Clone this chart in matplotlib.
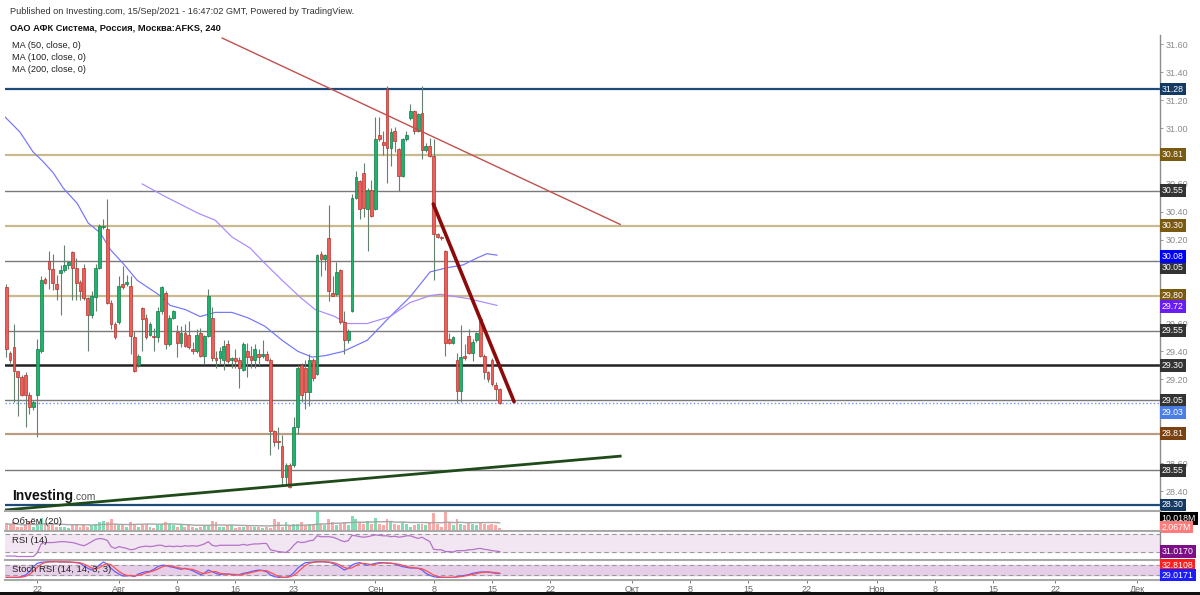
import matplotlib
matplotlib.use('Agg')
import matplotlib.pyplot as plt
import matplotlib.transforms as mtransforms
from matplotlib.patches import Rectangle
import numpy as np
import pandas as pd

plt.rcParams['font.family'] = ['Liberation Sans', 'DejaVu Sans']

# ---------------- data ----------------
opens = [29.86, 29.39, 29.43, 29.26, 29.22, 29.23, 29.09, 29.00, 29.09, 29.40,
         29.92, 30.05, 29.99, 29.88, 29.96, 29.98, 30.02, 30.11, 30.00, 29.90,
         30.00, 29.78, 29.66, 29.79, 30.00, 30.29, 30.28, 29.75, 29.60, 29.61,
         29.88, 29.88, 29.87, 29.50, 29.30, 29.71, 29.64, 29.52, 29.51, 29.50,
         29.69, 29.82, 29.45, 29.64, 29.54, 29.46, 29.53, 29.52, 29.42, 29.40,
         29.53, 29.37, 29.51, 29.64, 29.35, 29.35, 29.34, 29.45, 29.34, 29.35,
         29.34, 29.27, 29.40, 29.37, 29.34, 29.38, 29.37, 29.38, 29.34, 28.83,
         28.76, 28.72, 28.50, 28.59, 28.59, 28.86, 29.30, 29.28, 29.11, 29.34,
         29.24, 30.10, 30.06, 30.21, 29.82, 29.81, 29.98, 29.61, 29.48, 29.69,
         30.50, 30.62, 30.68, 30.42, 30.56, 30.42, 30.95, 30.90, 31.28, 30.86,
         30.98, 30.85, 30.66, 30.92, 31.07, 31.12, 30.98, 31.11, 30.84, 30.87,
         30.80, 30.24, 30.22, 30.12, 29.49, 29.46, 29.34, 29.12, 29.37, 29.51,
         29.39, 29.48, 29.63, 29.37, 29.25, 29.34, 29.16, 29.13]
highs = [29.88, 29.40, 29.60, 29.26, 29.23, 29.25, 29.11, 29.05, 29.49, 29.94,
         29.93, 30.12, 30.10, 29.95, 30.02, 30.16, 30.05, 30.12, 30.07, 29.91,
         30.03, 29.79, 29.83, 30.03, 30.31, 30.35, 30.49, 29.77, 29.61, 29.94,
         30.01, 29.95, 29.94, 29.55, 29.38, 29.72, 29.67, 29.61, 29.57, 29.72,
         29.87, 29.83, 29.66, 29.70, 29.59, 29.58, 29.60, 29.62, 29.47, 29.56,
         29.57, 29.52, 29.85, 29.72, 29.40, 29.43, 29.48, 29.48, 29.36, 29.42,
         29.36, 29.47, 29.46, 29.44, 29.45, 29.42, 29.48, 29.40, 29.35, 28.84,
         28.86, 28.80, 28.60, 28.60, 28.93, 29.30, 29.32, 29.34, 29.38, 29.35,
         30.10, 30.12, 30.10, 30.45, 29.94, 30.04, 29.99, 29.69, 29.56, 30.53,
         30.69, 30.63, 30.75, 30.57, 30.63, 31.08, 31.08, 30.98, 31.30, 31.00,
         31.01, 30.86, 30.93, 30.98, 31.17, 31.13, 31.11, 31.30, 30.89, 30.93,
         30.92, 30.25, 30.23, 30.13, 29.53, 29.51, 29.39, 29.59, 29.45, 29.56,
         29.49, 29.54, 29.65, 29.38, 29.26, 29.35, 29.18, 29.14]
lows = [29.36, 29.32, 29.04, 28.94, 29.08, 28.86, 28.95, 28.98, 28.79, 29.39,
        29.88, 29.85, 29.84, 29.77, 29.66, 29.97, 29.99, 29.77, 29.77, 29.77,
        29.77, 29.40, 29.64, 29.69, 29.99, 30.28, 29.74, 29.56, 29.49, 29.60,
        29.85, 29.87, 29.38, 29.25, 29.29, 29.40, 29.49, 29.51, 29.40, 29.47,
        29.67, 29.42, 29.44, 29.63, 29.36, 29.43, 29.43, 29.42, 29.38, 29.39,
        29.36, 29.31, 29.50, 29.33, 29.28, 29.31, 29.27, 29.32, 29.28, 29.28,
        29.14, 29.26, 29.22, 29.28, 29.28, 29.30, 29.35, 29.33, 28.66, 28.72,
        28.70, 28.44, 28.44, 28.42, 28.57, 28.81, 29.04, 28.99, 29.01, 29.19,
        29.23, 29.94, 29.98, 29.76, 29.80, 29.80, 29.60, 29.38, 29.46, 29.68,
        30.49, 30.35, 30.36, 30.12, 30.36, 30.41, 30.91, 30.81, 30.61, 30.73,
        30.83, 30.55, 30.65, 30.91, 31.06, 30.96, 30.97, 30.78, 30.83, 30.79,
        29.91, 30.21, 30.20, 29.37, 29.45, 29.45, 29.03, 29.04, 29.34, 29.38,
        29.33, 29.47, 29.36, 29.20, 29.18, 29.15, 29.05, 29.02]
closes = [29.42, 29.34, 29.26, 29.22, 29.09, 29.09, 29.00, 29.04, 29.42, 29.91,
          29.89, 29.99, 29.89, 29.85, 29.98, 30.02, 30.04, 30.00, 29.89, 29.83,
          29.78, 29.66, 29.80, 30.00, 30.30, 30.30, 29.75, 29.60, 29.50, 29.87,
          29.86, 29.90, 29.51, 29.26, 29.37, 29.63, 29.50, 29.60, 29.50, 29.69,
          29.86, 29.45, 29.64, 29.69, 29.46, 29.53, 29.44, 29.43, 29.40, 29.52,
          29.37, 29.51, 29.80, 29.35, 29.34, 29.40, 29.44, 29.33, 29.35, 29.33,
          29.28, 29.45, 29.36, 29.34, 29.42, 29.36, 29.38, 29.34, 28.83, 28.75,
          28.75, 28.50, 28.59, 28.43, 28.86, 29.28, 29.09, 29.11, 29.34, 29.21,
          30.09, 30.06, 30.09, 29.83, 29.80, 29.97, 29.61, 29.48, 29.55, 30.50,
          30.65, 30.42, 30.43, 30.56, 30.37, 30.92, 30.92, 30.88, 30.86, 30.97,
          30.91, 30.66, 30.92, 30.95, 31.12, 30.98, 31.10, 30.84, 30.87, 30.80,
          30.24, 30.22, 30.21, 29.46, 29.46, 29.50, 29.12, 29.36, 29.35, 29.39,
          29.47, 29.53, 29.37, 29.25, 29.20, 29.17, 29.13, 29.03]
volumes = [5, 4, 6, 3, 3, 4, 7, 3, 4, 9,
           5, 4, 5, 3, 3, 3, 2, 4, 4, 3,
           5, 3, 4, 5, 6, 7, 6, 8, 5, 4,
           4, 3, 6, 5, 3, 4, 5, 3, 2, 4,
           5, 6, 5, 4, 3, 4, 3, 4, 3, 2,
           3, 4, 4, 7, 6, 3, 3, 4, 4, 2,
           3, 3, 4, 3, 3, 3, 2, 3, 2, 8,
           6, 3, 6, 4, 5, 5, 6, 4, 5, 5,
           13, 5, 4, 8, 6, 4, 5, 6, 4, 10,
           8, 6, 5, 7, 5, 9, 5, 4, 8, 6,
           5, 4, 6, 5, 3, 4, 5, 5, 4, 6,
           12, 5, 3, 13, 6, 4, 8, 5, 4, 6,
           5, 4, 6, 5, 4, 5, 4, 2]
rsi_values = [21, 21, 21, 20, 20, 20, 20, 20, 28, 48,
              51, 51, 51, 52, 53, 53, 52, 51, 49, 46,
              44, 48, 53, 58, 60, 59, 56, 42, 38, 42,
              40, 38, 35, 36, 40, 42, 43, 42, 43, 45,
              45, 42, 43, 42, 43, 42, 44, 43, 44, 43,
              45, 48, 53, 45, 43, 45, 45, 45, 45, 45,
              45, 47, 45, 47, 48, 48, 49, 49, 35, 33,
              31, 30, 29, 35, 45, 53, 51, 52, 55, 56,
              66, 64, 64, 64, 63, 60, 56, 53, 55, 67,
              66, 64, 63, 64, 66, 68, 67, 66, 66, 64,
              65, 63, 64, 66, 66, 63, 60, 63, 58, 53,
              36, 35, 35, 31, 31, 30, 33, 33, 33, 35,
              35, 37, 38, 36, 35, 33, 32, 31]
stoch_k = [6, 6, 6, 6, 10, 20, 40, 70, 90, 96,
           98, 100, 100, 100, 98, 98, 98, 96, 94, 90,
           74, 60, 50, 60, 80, 98, 86, 60, 40, 26,
           14, 14, 18, 10, 26, 34, 40, 42, 54, 70,
           78, 78, 70, 66, 60, 54, 60, 54, 46, 34,
           22, 30, 50, 40, 30, 22, 26, 26, 22, 20,
           22, 30, 34, 40, 46, 50, 46, 40, 20, 10,
           6, 6, 6, 14, 34, 60, 80, 94, 96, 98,
           100, 100, 98, 96, 90, 80, 66, 50, 60, 80,
           90, 94, 86, 78, 84, 90, 94, 94, 90, 90,
           86, 78, 70, 66, 62, 62, 60, 50, 30, 18,
           10, 6, 6, 6, 6, 6, 10, 14, 18, 22,
           30, 34, 38, 38, 38, 34, 30, 29]

ma50_x = [-0.3, 3.6, 6.9, 9.5, 12.1, 14.7, 18.3, 21.1, 24.2, 26.8, 30.1, 33.7,
          39.6, 42.2, 46.1, 49.9, 53.8, 58.1, 62.3, 66.6, 71.0, 75.1, 78.7,
          82.1, 86.7, 92.9, 98.8, 103.9, 109.1, 113.5, 117.6, 121.2, 123.7, 126.3]
ma50_y = [31.08, 30.97, 30.83, 30.76, 30.68, 30.57, 30.46, 30.32, 30.25, 30.13,
          30.03, 29.91, 29.80, 29.73, 29.70, 29.65, 29.68, 29.68, 29.64, 29.58,
          29.48, 29.40, 29.36, 29.37, 29.40, 29.48, 29.65, 29.79, 29.97, 30.00,
          30.02, 30.07, 30.10, 30.09]
ma100_x = [35.0, 40.9, 49.4, 53.8, 58.1, 62.8, 66.6, 71.0, 75.6, 79.5, 84.6,
           87.7, 92.9, 98.8, 103.9, 109.1, 111.7, 118.6, 126.3]
ma100_y = [30.60, 30.51, 30.39, 30.34, 30.22, 30.14, 30.03, 29.91, 29.79, 29.70,
           29.65, 29.60, 29.60, 29.65, 29.75, 29.80, 29.81, 29.78, 29.73]

trend_thin_x, trend_thin_y = [55.6, 158.0], [31.645, 30.31]
trend_thick_x, trend_thick_y = [109.9, 130.7], [30.456, 29.04]
trend_support_x, trend_support_y = [-0.3, 158.0], [28.264, 28.65]

level_prices = [31.28, 30.81, 30.55, 30.30, 30.05, 29.80, 29.55, 29.30,
                29.05, 29.03, 28.81, 28.55, 28.30]
price_ticks = [28.40, 28.60, 29.20, 29.40, 29.60,
               30.20, 30.40, 30.60, 31.00, 31.20, 31.40, 31.60]
date_tick_pos = [8, 29, 44, 59, 74, 95, 110, 125, 140, 161, 176, 191, 206,
                 224, 239, 254, 270, 291]
date_tick_labels = ['22', 'Авг', '9', '16', '23', 'Сен', '8', '15', '22',
                    'Окт', '8', '15', '22', 'Ноя', '8', '15', '22', 'Дек']
ma_value_labels = [30.08, 29.72]
vol_labels = ['10.018M', '2.067M']
rsi_label = '31.0170'
stoch_labels = ['32.8108', '29.0171']

# ---------------- styles ----------------
# line colour, width, style, label box colour, label vertical shift (px)
level_styles = {
    31.28: ('#1d4c7c', 1.6, '-', '#143a63', 0),
    30.81: ('#c9b98e', 1.6, '-', '#7a5a10', 0),
    30.55: ('#7a7a7a', 1.0, '-', '#333333', 0),
    30.30: ('#c9b98e', 1.6, '-', '#7a5a10', 0),
    30.05: ('#7a7a7a', 1.0, '-', '#333333', -7),
    29.80: ('#c9b98e', 1.6, '-', '#7a5a10', 0),
    29.55: ('#7a7a7a', 1.0, '-', '#333333', 0),
    29.30: ('#222222', 1.8, '-', '#333333', 0),
    29.05: ('#7a7a7a', 1.0, '-', '#333333', 0),
    29.03: ('#6f8fff', 1.0, ':', '#4a7ee6', -9),
    28.81: ('#b89c84', 1.6, '-', '#7a4212', 0),
    28.55: ('#7a7a7a', 1.0, '-', '#333333', 0),
    28.30: ('#1d4c7c', 1.6, '-', '#143a63', 0),
}

W, H = 1200, 595
fig = plt.figure(figsize=(12, 5.95), dpi=100)
fig.patch.set_facecolor('white')

def rect(top, bottom, left=5, right=1160):
    return [left / W, 1 - bottom / H, (right - left) / W, (bottom - top) / H]

ax = fig.add_axes(rect(35, 511))
axv = fig.add_axes(rect(511, 531), sharex=ax)
axr = fig.add_axes(rect(531, 560), sharex=ax)
axs = fig.add_axes(rect(560, 580), sharex=ax)

XMIN, XMAX = -0.3, 296.9
ax.set_xlim(XMIN, XMAX)
ax.set_ylim(28.257, 31.667)

n = len(opens)
xs = np.arange(n)
o = np.array(opens); c = np.array(closes); h = np.array(highs); l = np.array(lows)
up = c >= o
green, red = '#1cb46c', '#ef5f5a'
green_e, red_e = '#117a45', '#b3322d'

# levels
for p in level_prices:
    col, lw, ls, _, _ = level_styles[p]
    ax.axhline(p, color=col, lw=lw, ls=ls, zorder=1)

# candles
ax.vlines(xs, l, h, color='#66806f', lw=0.8, zorder=3)
body_lo = np.minimum(o, c)
body_h = np.maximum(np.abs(c - o), 0.008)
ax.bar(xs, body_h, bottom=body_lo, width=0.72,
       color=np.where(up, green, red), edgecolor=np.where(up, green_e, red_e),
       linewidth=0.5, zorder=4)

# moving averages
ax.plot(ma50_x, ma50_y, color='#7373ff', lw=0.85, zorder=2)
ax.plot(ma100_x, ma100_y, color='#ab88ff', lw=0.85, zorder=2)

# trend lines
ax.plot(trend_thin_x, trend_thin_y, color='#c0504d', lw=1.0, zorder=5)
ax.plot(trend_thick_x, trend_thick_y, color='#8b0a0a', lw=2.6, zorder=5,
        solid_capstyle='round')
ax.plot(trend_support_x, trend_support_y, color='#1f4a1a', lw=2.0, zorder=5)

# axes styling
for a in (ax, axv, axr, axs):
    for s in ('left', 'top', 'bottom'):
        a.spines[s].set_visible(False)
    a.spines['right'].set_color('#8c8c8c')
    a.spines['right'].set_linewidth(1.0)
    a.tick_params(axis='x', which='both', bottom=False, labelbottom=False)
    a.set_facecolor('none')

ax.yaxis.tick_right()
ax.set_yticks(price_ticks)
ax.set_yticklabels(['%.2f' % v for v in price_ticks])
ax.tick_params(axis='y', colors='#8a8a8a', labelsize=6.5, length=2, width=0.6, pad=2)

trans = mtransforms.blended_transform_factory(ax.transAxes, ax.transData)
for p in level_prices:
    box, shift = level_styles[p][3], level_styles[p][4]
    tt = mtransforms.offset_copy(trans, fig=fig, x=0, y=shift * 0.72, units='points')
    ax.text(1.0015, p, '%.2f' % p, transform=tt, ha='left', va='center',
            fontsize=6.3, color='white', zorder=10, clip_on=False,
            bbox=dict(boxstyle='square,pad=0.22', fc=box, ec='none'))
for p, colr in zip(ma_value_labels, ['#0000ff', '#6a1cf5']):
    ax.text(1.0015, p, '%.2f' % p, transform=trans, ha='left', va='center',
            fontsize=6.3, color='white', zorder=11, clip_on=False,
            bbox=dict(boxstyle='square,pad=0.22', fc=colr, ec='none'))

# volume panel
vol = np.array(volumes, dtype=float)
axv.bar(xs, vol, width=0.75, color=np.where(up, '#7fdcb3', '#f7aaa8'), zorder=2)
vol_ma = pd.Series(vol).rolling(20, min_periods=1).mean()
axv.plot(xs, vol_ma, color='#a5a5a5', lw=1.0, zorder=3)
axv.set_ylim(0, 13.5)
axv.set_yticks([])
axv.spines['top'].set_visible(True)
axv.spines['top'].set_color('#a8a8a8'); axv.spines['top'].set_linewidth(1.5)
axv.text(0.006, 0.45, 'Объём (20)', transform=axv.transAxes, fontsize=6.8,
         va='center', color='#222')
tv = axv.transAxes
axv.text(1.0015, 0.62, vol_labels[0], transform=tv, ha='left', va='center',
         fontsize=6.3, color='white', clip_on=False, zorder=10,
         bbox=dict(boxstyle='square,pad=0.22', fc='#000000', ec='none'))
axv.text(1.0015, 0.2, vol_labels[1], transform=tv, ha='left', va='center',
         fontsize=6.3, color='white', clip_on=False, zorder=10,
         bbox=dict(boxstyle='square,pad=0.22', fc='#ff7c7c', ec='none'))

# RSI panel
axr.set_ylim(12.2, 76.7)
axr.axhspan(30, 70, color='#f3e6f3', zorder=0)
axr.axhline(70, color='#9a9a9a', lw=0.8, ls=(0, (4, 3)))
axr.axhline(30, color='#9a9a9a', lw=0.8, ls=(0, (4, 3)))
axr.plot(xs, rsi_values, color='#b473c7', lw=0.9, zorder=3)
axr.set_yticks([])
axr.spines['top'].set_visible(True)
axr.spines['top'].set_color('#a8a8a8'); axr.spines['top'].set_linewidth(1.5)
axr.text(0.006, 0.66, 'RSI (14)', transform=axr.transAxes, fontsize=6.8,
         va='center', color='#222')
tr = mtransforms.blended_transform_factory(axr.transAxes, axr.transData)
axr.text(1.0015, rsi_values[-1], rsi_label, transform=tr, ha='left', va='center',
         fontsize=6.3, color='white', clip_on=False, zorder=10,
         bbox=dict(boxstyle='square,pad=0.22', fc='#7d0f86', ec='none'))

# Stoch RSI panel
k = pd.Series(stoch_k, dtype=float)
d = k.rolling(3, min_periods=1).mean()
axs.set_ylim(-10, 110)
axs.axhspan(20, 80, color='#e6cde8', zorder=0)
axs.axhline(80, color='#9a9a9a', lw=0.8, ls=(0, (4, 3)))
axs.axhline(20, color='#9a9a9a', lw=0.8, ls=(0, (4, 3)))
axs.plot(xs, k, color='#6060ff', lw=0.9, zorder=3)
axs.plot(xs, d, color='#ff5050', lw=0.9, zorder=3)
axs.set_yticks([])
for s in ('top', 'bottom'):
    axs.spines[s].set_visible(True)
    axs.spines[s].set_color('#a8a8a8'); axs.spines[s].set_linewidth(1.5)
axs.text(0.006, 0.5, 'Stoch RSI (14, 14, 3, 3)', transform=axs.transAxes,
         fontsize=6.8, va='center', color='#222')
axs.text(1.0015, 0.75, stoch_labels[0], transform=axs.transAxes, ha='left',
         va='center', fontsize=6.3, color='white', clip_on=False, zorder=10,
         bbox=dict(boxstyle='square,pad=0.22', fc='#ff1e1e', ec='none'))
axs.text(1.0015, 0.25, stoch_labels[1], transform=axs.transAxes, ha='left',
         va='center', fontsize=6.3, color='white', clip_on=False, zorder=10,
         bbox=dict(boxstyle='square,pad=0.22', fc='#1c1cff', ec='none'))

axs.set_xticks(date_tick_pos)
axs.set_xticklabels(date_tick_labels)
axs.tick_params(axis='x', bottom=True, labelbottom=True, labelsize=6.5,
                colors='#666666', length=2, width=0.6, pad=1.5)
ax.set_xlim(XMIN, XMAX)

# header texts
fig.text(10 / W, 1 - 12 / H, 'Published on Investing.com, 15/Sep/2021 - 16:47:02 GMT, Powered by TradingView.',
         fontsize=6.6, color='#333333', va='center')
fig.text(10 / W, 1 - 28 / H, 'ОАО АФК Система, Россия, Москва:AFKS, 240',
         fontsize=6.7, color='#111111', va='center', fontweight='bold')
for yy, t in zip([46, 58, 70], ['MA (50, close, 0)', 'MA (100, close, 0)', 'MA (200, close, 0)']):
    fig.text(12 / W, 1 - yy / H, t, fontsize=6.6, color='#222222', va='center')

# logo
fig.text(12 / W, 1 - 496 / H, 'Investing', fontsize=10, fontweight='bold',
         color='#111111', va='center')
fig.text(73 / W, 1 - 497 / H, '.com', fontsize=7.5, color='#555555', va='center')

# bottom dark band
fig.patches.append(Rectangle((0, 0), 1, 3 / H, transform=fig.transFigure,
                             facecolor='#111111', edgecolor='none'))

fig.savefig('out.png', dpi=100, facecolor='white')
